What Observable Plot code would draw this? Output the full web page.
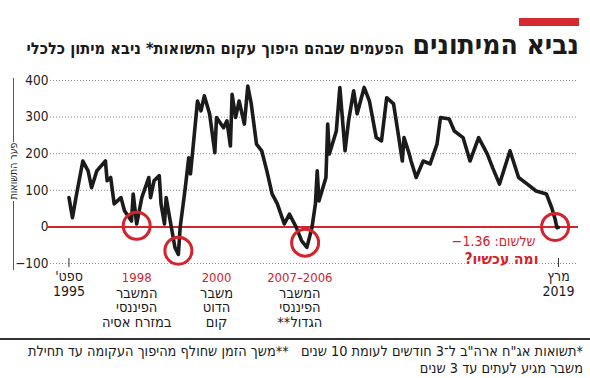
<!DOCTYPE html>
<html>
<head>
<meta charset="utf-8">
<script src="https://cdn.jsdelivr.net/npm/d3@7"></script>
<script src="https://cdn.jsdelivr.net/npm/@observablehq/plot@0.6"></script>
<style>
  html, body { margin: 0; padding: 0; background: #fff; }
  #wrap { position: relative; width: 590px; height: 378px; overflow: hidden; font-family: "DejaVu Sans Condensed", "DejaVu Sans", sans-serif; }
  #bar { position: absolute; left: 519px; top: 18px; width: 60px; height: 8px; background: #d42a32; }
  #title { position: absolute; right: 11px; top: 31px; font-size: 28px; line-height: 28px; font-weight: bold; color: #1a1a1a; direction: rtl; white-space: nowrap; }
  #subtitle { position: absolute; right: 186px; top: 41px; font-size: 16.3px; line-height: 16px; font-weight: bold; color: #1a1a1a; direction: rtl; white-space: nowrap; }
  #chart { position: absolute; left: 0; top: 62px; }
  .vline { position: absolute; left: 13px; width: 1px; background: #555; }
  #ytitle { position: absolute; left: 13px; top: 171px; transform: translate(-50%, -50%) rotate(-90deg); font-size: 10.5px; line-height: 12px; color: #1a1a1a; direction: rtl; white-space: nowrap; }
  #foot { position: absolute; left: 0; top: 338px; width: 590px; border-top: 2px solid #333; }
  #foot div { direction: rtl; text-align: right; padding-right: 7px; font-size: 14.4px; line-height: 16.5px; color: #1a1a1a; white-space: nowrap; }
</style>
</head>
<body>
<div id="wrap">
  <div id="bar"></div>
  <div id="title">נביא המיתונים</div>
  <div id="subtitle">הפעמים שבהם היפוך עקום התשואות* ניבא מיתון כלכלי</div>
  <div id="chart"></div>
  <div class="vline" style="top:78px;height:64px"></div>
  <div class="vline" style="top:201px;height:69px"></div>
  <div id="ytitle">פער התשואות</div>
  <div id="foot">
    <div style="margin-top:3px">*תשואות אג"ח ארה"ב ל־3 חודשים לעומת 10 שנים &nbsp;&nbsp;**משך הזמן שחולף מהיפוך העקומה עד תחילת</div>
    <div>משבר מגיע לעתים עד 3 שנים</div>
  </div>
</div>
<script>
// ---- data ----
const months = ["1995-09","1995-11","1996-01","1996-05","1996-08","1996-10","1997-01","1997-06","1997-07","1997-09","1997-11",
  "1998-03","1998-05","1998-09","1998-10","1998-12","1999-03","1999-07","1999-08","1999-10","2000-01","2000-02","2000-04",
  "2000-05","2000-07","2000-09","2000-10","2000-12","2001-01","2001-04","2001-06","2001-07","2001-09","2001-11","2002-01",
  "2002-03","2002-06","2002-09","2002-10","2003-02","2003-04","2003-06","2003-07","2003-09","2003-11","2004-02","2004-04",
  "2004-06","2004-09","2004-12","2005-03","2005-06","2005-09","2006-01","2006-04","2006-08","2006-11","2007-02","2007-05",
  "2007-07","2007-08","2007-09","2008-01","2008-02","2008-03","2008-07","2008-09","2008-12","2009-02","2009-05","2009-07",
  "2009-11","2010-02","2010-06","2010-09","2010-12","2011-04","2011-07","2011-09","2011-10","2012-01","2012-02","2012-05",
  "2012-09","2013-01","2013-05","2013-07","2013-12","2014-03","2014-08","2014-12","2015-05","2015-10","2016-01","2016-05",
  "2016-11","2017-04","2017-09","2018-02","2018-08","2018-11","2019-01","2019-02","2019-03"];
const spread = [80,25,80,180,153,107,153,180,126,135,63,
  80,44,16,90,8,80,135,80,126,140,63,8,
  80,25,-29,-56,-75,-2,107,189,145,244,344,317,
  358,309,203,299,271,290,221,362,299,344,281,385,
  336,226,208,153,90,63,8,35,-2,-38,-56,-2,
  63,153,71,135,281,199,262,381,208,290,372,309,
  381,344,244,235,353,336,244,180,244,199,180,135,
  180,172,226,299,295,262,244,180,244,199,162,117,
  208,135,117,98,90,53,21,-2,-1.36];

const yTicks = [-100, 0, 100, 200, 300, 400];
const xTickMonths = ["1995-09", "2019-03"];
const xTickLabels = ["ספט'\u200F\n1995", "מרץ\n2019"];

const circleMonths = ["1998-12", "2000-12", "2007-01", "2019-01"];
const circleValues = [3, -65, -43, 0];

const crisisLabelMonths = ["1998-12", "2002-10", "2006-10"];
const crisisYears = ["1998", "2000", "2007–2006"];
const crisisNames = ["המשבר\nהפיננסי\nבמזרח אסיה", "משבר\nהדוט\nקום", "המשבר\nהפיננסי\nהגדול**\u200F"];

const lastLabel = "−1.36 :שלשום";
const nowLabel = "ומה עכשיו?\u200F";

// ---- build ----
const parse = d3.utcParse("%Y-%m");
const series = months.map((m, i) => ({date: parse(m), value: spread[i]}));
const circles = circleMonths.map((m, i) => ({date: parse(m), value: circleValues[i]}));
const xTicks = xTickMonths.map((m, i) => ({date: parse(m), label: xTickLabels[i]}));
const crises = crisisLabelMonths.map((m, i) => ({date: parse(m), year: crisisYears[i], name: crisisNames[i]}));
const last = series[series.length - 1];

const red = "#d3232c";
const font = "'DejaVu Sans Condensed', 'DejaVu Sans', sans-serif";

const chart = Plot.plot({
  width: 590,
  height: 274,
  marginTop: 18,
  marginBottom: 73,
  marginLeft: 50,
  marginRight: 12,
  x: {type: "utc", domain: [new Date(Date.UTC(1994, 9, 12)), new Date(Date.UTC(2020, 1, 15))], axis: null},
  y: {domain: [-100, 400], axis: null},
  style: {fontFamily: font, background: "white", overflow: "visible"},
  marks: [
    Plot.ruleY(yTicks.filter(d => d !== 0), {stroke: "#8c8c8c", strokeDasharray: "1,2", strokeWidth: 1}),
    Plot.axisY(yTicks, {label: null, tickSize: 0, tickPadding: 2, fontSize: 13.5, fill: "#222", fontFamily: "'Liberation Sans Narrow', 'DejaVu Sans Condensed', sans-serif"}),
    Plot.ruleY([0], {stroke: red, strokeWidth: 2, insetLeft: -3}),
    Plot.ruleX(xTicks, {x: "date", y1: -100, y2: -100, insetTop: -5, insetBottom: -4, stroke: "#333", strokeWidth: 1}),
    Plot.line(series, {x: "date", y: "value", stroke: "#1b1b1b", strokeWidth: 3.6, strokeLinejoin: "round", strokeLinecap: "round"}),
    Plot.dot(circles, {x: "date", y: "value", r: 13.5, stroke: red, strokeWidth: 3, fill: "none"}),
    Plot.text(xTicks, {x: "date", y: -100, text: "label", lineAnchor: "top", dy: 7, fontSize: 14, lineHeight: 1.05, fill: "#1a1a1a"}),
    Plot.text(crises, {x: "date", y: -100, text: "year", lineAnchor: "top", dy: 9, fontSize: 13, fill: red}),
    Plot.text(crises, {x: "date", y: -100, text: "name", lineAnchor: "top", dy: 24, fontSize: 14.5, lineHeight: 1.0, fill: "#1a1a1a"}),
    Plot.text([last], {x: "date", y: 0, text: () => lastLabel, textAnchor: "end", dx: -23, dy: 15, fontSize: 14, fill: red}),
    Plot.text([last], {x: "date", y: 0, text: () => nowLabel, textAnchor: "end", dx: -20, dy: 32, fontSize: 15.5, fontWeight: "bold", fill: red, stroke: "white", strokeWidth: 4})
  ]
});
document.getElementById("chart").appendChild(chart);
</script>
</body>
</html>
